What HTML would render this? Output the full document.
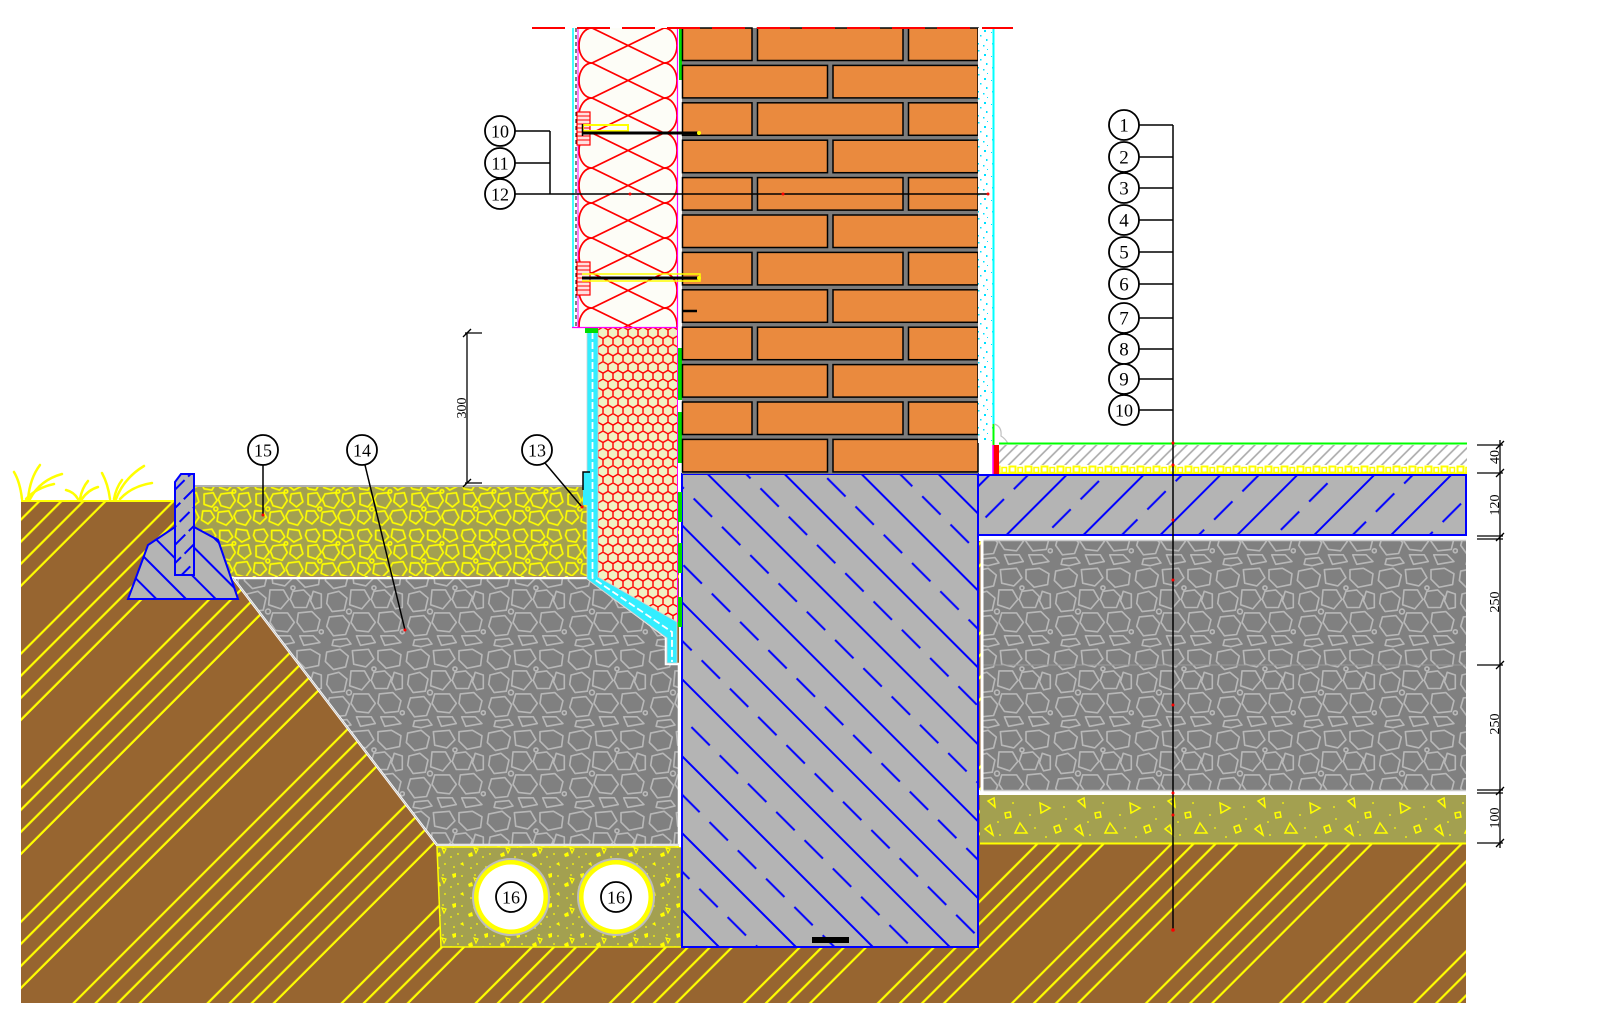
<!DOCTYPE html>
<html><head><meta charset="utf-8">
<style>
html,body{margin:0;padding:0;background:#fff;overflow:hidden}
svg{display:block}
text{font-family:"Liberation Serif","DejaVu Serif",serif;fill:#000}
</style></head><body>
<svg width="1600" height="1026" viewBox="0 0 1600 1026" xmlns="http://www.w3.org/2000/svg">
<defs>
<pattern id="soil" patternUnits="userSpaceOnUse" width="94.8" height="20" patternTransform="rotate(45)">
 <rect width="94.8" height="20" fill="#976530"/>
 <g stroke="#ffff00" stroke-width="2.2">
  <line x1="3" y1="-2" x2="3" y2="22"/><line x1="18.6" y1="-2" x2="18.6" y2="22"/>
  <line x1="34.2" y1="-2" x2="34.2" y2="22"/><line x1="49.8" y1="-2" x2="49.8" y2="22"/>
 </g>
</pattern>
<pattern id="fh" patternUnits="userSpaceOnUse" width="54.4" height="40" patternTransform="rotate(-45)">
 <rect width="54.4" height="40" fill="#b4b4b4"/>
 <line x1="2" y1="-1" x2="2" y2="41" stroke="#0000ff" stroke-width="2"/>
 <line x1="29.2" y1="3" x2="29.2" y2="43" stroke="#0000ff" stroke-width="2" stroke-dasharray="26 14"/>
</pattern>
<pattern id="sh" patternUnits="userSpaceOnUse" width="54.4" height="40" patternTransform="rotate(45)">
 <rect width="54.4" height="40" fill="#b4b4b4"/>
 <line x1="2" y1="-1" x2="2" y2="41" stroke="#0000ff" stroke-width="2"/>
 <line x1="29.2" y1="3" x2="29.2" y2="43" stroke="#0000ff" stroke-width="2" stroke-dasharray="26 14"/>
</pattern>
<pattern id="hh" patternUnits="userSpaceOnUse" width="21" height="20" patternTransform="rotate(-45)">
 <rect width="21" height="20" fill="#b4b4b4"/>
 <line x1="2" y1="-1" x2="2" y2="21" stroke="#0000ff" stroke-width="2"/>
</pattern>
<pattern id="ch" patternUnits="userSpaceOnUse" width="13" height="19" patternTransform="rotate(45)">
 <rect width="13" height="19" fill="#b4b4b4"/>
 <line x1="2" y1="0" x2="2" y2="19" stroke="#0000ff" stroke-width="2" stroke-dasharray="14 5"/>
</pattern>
<pattern id="scr" patternUnits="userSpaceOnUse" width="8" height="10" patternTransform="rotate(45)">
 <rect width="8" height="10" fill="#fff"/>
 <line x1="2" y1="-1" x2="2" y2="11" stroke="#a8a8a8" stroke-width="1.6"/>
</pattern>
<pattern id="ins" patternUnits="userSpaceOnUse" x="0" y="465" width="16" height="10">
 <rect width="16" height="10" fill="#fff"/>
 <rect x="1.5" y="1.5" width="6" height="6" fill="none" stroke="#ffff00" stroke-width="2"/>
 <rect x="10" y="2.5" width="4.5" height="5" fill="none" stroke="#ffff00" stroke-width="1.5"/>
 <rect x="0" y="7.5" width="16" height="2.5" fill="#ffff00"/>
</pattern>
<pattern id="hex" patternUnits="userSpaceOnUse" x="598" y="327" width="10" height="17.32">
 <rect width="10" height="17.32" fill="#f1f1c3"/>
 <path d="M5,0 L10,2.887 L10,8.66 L5,11.547 L0,8.66 L0,2.887 Z M5,11.547 L5,17.32" fill="none" stroke="#ff0000" stroke-width="1.4"/>
</pattern>
<pattern id="wool" patternUnits="userSpaceOnUse" x="578" y="28" width="100" height="35">
 <rect width="100" height="35" fill="#fdfdf7"/>
 <path d="M14,0 A13,17.5 0 0 0 14,35 M86,0 A13,17.5 0 0 1 86,35 M14,0 L86,35 M14,35 L86,0" fill="none" stroke="#ff0000" stroke-width="1.7"/>
</pattern>
<pattern id="pl" patternUnits="userSpaceOnUse" width="15" height="24">
 <rect width="15" height="24" fill="#fff"/>
 <g fill="#00e0ff">
  <rect x="3" y="2" width="1.5" height="1.5"/><rect x="9" y="6" width="2" height="2"/>
  <rect x="5" y="11" width="1.5" height="1.5"/><rect x="11" y="15" width="1.5" height="2"/>
  <rect x="2" y="19" width="2" height="1.5"/><rect x="8" y="21" width="1.5" height="1.5"/>
  <rect x="12" y="1" width="1" height="1"/><rect x="1" y="8" width="1" height="1"/>
 </g>
</pattern>
<pattern id="gs" patternUnits="userSpaceOnUse" width="60" height="60" patternTransform="scale(1.35)">
 <rect width="60" height="60" fill="#808080"/>
 <g fill="none" stroke="#b8b8b8" stroke-width="1.2" stroke-linejoin="round">
  <polygon points="2,3 12,1 18,6 16,14 7,16 1,10"/>
  <polygon points="21,2 33,1 37,8 31,14 22,12"/>
  <polygon points="40,2 50,1 57,5 56,13 46,15 40,9"/>
  <polygon points="3,20 11,18 17,23 15,32 6,33 2,27"/>
  <polygon points="20,17 30,17 34,24 28,31 19,28"/>
  <polygon points="37,18 45,17 50,22 47,30 38,30 35,24"/>
  <polygon points="52,18 58,20 58,30 53,31 50,25"/>
  <polygon points="4,37 14,36 19,42 16,50 7,51 2,44"/>
  <polygon points="22,34 33,34 38,41 33,48 24,47 20,41"/>
  <polygon points="41,34 51,33 57,39 55,47 45,48 40,41"/>
  <polygon points="7,54 17,53 20,57 12,59 6,58"/>
  <polygon points="24,51 35,51 38,56 27,58"/>
  <polygon points="42,51 52,51 57,56 45,58"/>
  <circle cx="18.5" cy="33" r="1.8"/><circle cx="37" cy="15.5" r="1.5"/><circle cx="58" cy="48" r="1.5"/>
 </g>
</pattern>
<pattern id="ys" patternUnits="userSpaceOnUse" x="194" y="486" width="40" height="40" patternTransform="scale(1.3)">
 <rect width="40" height="40" fill="#a3a050"/>
 <g fill="none" stroke="#ffff00" stroke-width="1.3" stroke-linejoin="round">
  <polygon points="2,2 9,1 12,6 9,11 3,10 1,6"/>
  <polygon points="15,2 22,2 25,7 21,11 15,9"/>
  <polygon points="28,1 36,2 38,8 32,11 27,7"/>
  <polygon points="3,14 10,13 13,19 9,24 3,22"/>
  <polygon points="16,14 24,13 27,19 23,25 16,23 14,18"/>
  <polygon points="30,14 37,13 39,20 34,24 29,20"/>
  <polygon points="2,27 8,27 11,32 6,37 1,34"/>
  <polygon points="14,28 22,27 25,33 20,38 13,35"/>
  <polygon points="28,27 36,26 39,32 35,38 28,36 26,31"/>
  <circle cx="12" cy="25.5" r="1.5"/><circle cx="26" cy="12" r="1.3"/>
 </g>
</pattern>
<pattern id="ol" patternUnits="userSpaceOnUse" x="980" y="795" width="90" height="48">
 <rect width="90" height="48" fill="#a3a050"/>
 <g fill="none" stroke="#ffff00" stroke-width="1.5">
  <polygon points="8,6 14,3 15,12"/><polygon points="40,28 47,38 35,38"/>
  <polygon points="60,8 70,13 61,18"/><polygon points="25,18 30,17 31,22 26,23"/>
  <polygon points="74,32 79,30 81,36 76,38"/><polygon points="5,34 10,30 13,40"/>
 </g>
 <g fill="#ffff00">
  <circle cx="20" cy="40" r="0.9"/><circle cx="33" cy="8" r="0.9"/><circle cx="50" cy="20" r="0.9"/>
  <circle cx="84" cy="12" r="0.9"/><circle cx="66" cy="42" r="0.9"/><circle cx="18" cy="27" r="0.9"/>
  <circle cx="55" cy="33" r="0.9"/><circle cx="86" cy="24" r="0.9"/>
 </g>
</pattern>
<pattern id="dr" patternUnits="userSpaceOnUse" width="32" height="30">
 <rect width="32" height="30" fill="#a3a050"/>
 <g fill="#ffff00">
  <polygon points="4,4 8,3 8,7 5,8"/><polygon points="20,14 24,12 25,16 21,17"/><polygon points="12,24 15,22 16,26"/>
  <circle cx="14" cy="6" r="0.9"/><circle cx="27" cy="5" r="0.9"/><circle cx="3" cy="17" r="0.9"/>
  <circle cx="10" cy="14" r="0.9"/><circle cx="29" cy="24" r="0.9"/><circle cx="23" cy="28" r="0.9"/><circle cx="6" cy="27" r="0.9"/>
 </g>
 <polygon points="26,8 30,9 28,13" fill="none" stroke="#ffff00" stroke-width="1.2"/>
</pattern>
</defs>

<rect width="1600" height="1026" fill="#fff"/>

<!-- soil -->
<rect x="21" y="501" width="1445" height="502" fill="url(#soil)"/>
<line x1="21" y1="501" x2="176" y2="501" stroke="#ffff00" stroke-width="2"/>

<!-- grass -->
<g fill="none" stroke="#ffff00" stroke-width="2.5" stroke-linecap="round">
<path d="M22,499 Q20,482 14,472"/><path d="M28,499 Q30,478 40,465"/>
<path d="M30,499 Q40,480 62,474"/><path d="M26,499 Q36,488 54,484"/>
<path d="M78,499 Q74,492 66,490"/><path d="M80,499 Q82,488 88,481"/>
<path d="M82,499 Q88,490 98,487"/><path d="M110,499 Q108,484 102,473"/>
<path d="M116,499 Q124,478 144,466"/><path d="M120,499 Q132,486 152,483"/>
<path d="M114,499 Q116,488 122,480"/>
</g>

<!-- yellow gravel 15 -->
<rect x="194" y="486" width="393" height="90" fill="url(#ys)"/>
<line x1="194" y1="486" x2="587" y2="486" stroke="#b0b0b0" stroke-width="2"/>

<!-- gray stone 14 -->
<polygon points="233,578 587,578 666,637 666,664 679,664 679,845 437,845" fill="url(#gs)" stroke="#ffffff" stroke-width="2.5"/>
<polyline points="233,578 437,845 679,845" fill="none" stroke="#c8c8c8" stroke-width="1"/>

<!-- haunch & curb -->
<polygon points="128,599 134,583 148,545 175,527 194,527 218,540 229,572 238,599" fill="url(#hh)" stroke="#0000ff" stroke-width="2"/>
<polygon points="175,482 181,474 194,474 194,575 175,575" fill="url(#ch)" stroke="#0000ff" stroke-width="2"/>

<!-- drainage -->
<polygon points="437,847 682,847 682,947 441,947" fill="url(#dr)" stroke="#ffff00" stroke-width="1.5"/>
<g>
<circle cx="511" cy="897" r="39" fill="#bdbdbd"/><circle cx="511" cy="897" r="37" fill="#ffff00"/><circle cx="511" cy="897" r="32.5" fill="#fff"/>
<circle cx="616" cy="897" r="39" fill="#bdbdbd"/><circle cx="616" cy="897" r="37" fill="#ffff00"/><circle cx="616" cy="897" r="32.5" fill="#fff"/>
</g>

<!-- foundation -->
<rect x="679" y="474" width="4" height="373" fill="#fff"/>
<rect x="682" y="474" width="296" height="473" fill="url(#fh)" stroke="#0000ff" stroke-width="2"/>
<rect x="812" y="937" width="37" height="6" fill="#000"/>

<!-- plinth XPS + waterproofing band -->
<polygon points="598,327 677,327 677,622 598,577" fill="url(#hex)"/>
<polygon points="587,330 598,330 598,577 677,622 677,663 667,663 667,638 587,579" fill="#33eeff" stroke="#d0d0d0" stroke-width="0.8"/>
<polyline points="592.5,332 592.5,578 672,632 672,662" fill="none" stroke="#fff" stroke-width="1.8" stroke-dasharray="7 3"/>
<rect x="583" y="472" width="5" height="33" fill="#33eeff"/>
<path d="M583,490 L583,472 L590,472" fill="none" stroke="#000" stroke-width="1.5"/>
<line x1="677.5" y1="327" x2="677.5" y2="622" stroke="#ff00ff" stroke-width="1"/>
<g fill="#00dd00">
<rect x="678" y="348" width="4" height="52"/><rect x="678" y="412" width="4" height="51"/>
<rect x="678" y="492" width="4" height="30"/><rect x="678" y="543" width="4" height="30"/>
<rect x="678" y="597" width="4" height="30"/><rect x="585" y="326" width="13" height="7"/>
</g>

<!-- wall insulation -->
<rect x="572" y="28" width="6" height="299" fill="#fff"/>
<line x1="573" y1="28" x2="573" y2="327" stroke="#00ffff" stroke-width="1.5"/>
<line x1="576" y1="28" x2="576" y2="327" stroke="#000" stroke-width="1" stroke-dasharray="4 3"/>
<rect x="578" y="28" width="99.5" height="299" fill="url(#wool)"/>
<line x1="578" y1="28" x2="578" y2="327" stroke="#ff00ff" stroke-width="1"/>
<line x1="677.5" y1="28" x2="677.5" y2="327" stroke="#ff00ff" stroke-width="1.2"/>
<line x1="572" y1="327.5" x2="678" y2="327.5" stroke="#ff00ff" stroke-width="1.2"/>
<rect x="679" y="28" width="3" height="52" fill="#00dd00"/>

<!-- bricks -->
<rect x="682" y="28" width="296" height="446" fill="#7c7c7c"/>
<g fill="#ea8a3e" stroke="#000" stroke-width="1.5">
<rect x="682.5" y="28" width="69.5" height="32.5"/><rect x="757.5" y="28" width="145.5" height="32.5"/><rect x="908.5" y="28" width="69.5" height="32.5"/>
<rect x="682.5" y="65.4" width="145" height="32.5"/><rect x="833" y="65.4" width="145" height="32.5"/>
<rect x="682.5" y="102.8" width="69.5" height="32.5"/><rect x="757.5" y="102.8" width="145.5" height="32.5"/><rect x="908.5" y="102.8" width="69.5" height="32.5"/>
<rect x="682.5" y="140.2" width="145" height="32.5"/><rect x="833" y="140.2" width="145" height="32.5"/>
<rect x="682.5" y="177.6" width="69.5" height="32.5"/><rect x="757.5" y="177.6" width="145.5" height="32.5"/><rect x="908.5" y="177.6" width="69.5" height="32.5"/>
<rect x="682.5" y="215" width="145" height="32.5"/><rect x="833" y="215" width="145" height="32.5"/>
<rect x="682.5" y="252.4" width="69.5" height="32.5"/><rect x="757.5" y="252.4" width="145.5" height="32.5"/><rect x="908.5" y="252.4" width="69.5" height="32.5"/>
<rect x="682.5" y="289.8" width="145" height="32.5"/><rect x="833" y="289.8" width="145" height="32.5"/>
<rect x="682.5" y="327.2" width="69.5" height="32.5"/><rect x="757.5" y="327.2" width="145.5" height="32.5"/><rect x="908.5" y="327.2" width="69.5" height="32.5"/>
<rect x="682.5" y="364.6" width="145" height="32.5"/><rect x="833" y="364.6" width="145" height="32.5"/>
<rect x="682.5" y="402" width="69.5" height="32.5"/><rect x="757.5" y="402" width="145.5" height="32.5"/><rect x="908.5" y="402" width="69.5" height="32.5"/>
<rect x="682.5" y="439.4" width="145" height="32.5"/><rect x="833" y="439.4" width="145" height="32.5"/>
</g>

<!-- dowels -->
<g>
<rect x="577" y="112" width="13" height="33" fill="#ffe0e0" stroke="#ff0000" stroke-width="1.2"/>
<rect x="577" y="262" width="13" height="33" fill="#ffe0e0" stroke="#ff0000" stroke-width="1.2"/>
<path d="M577,116H590M577,120H590M577,124H590M577,128H590M577,132H590M577,136H590M577,140H590M577,266H590M577,270H590M577,274H590M577,278H590M577,282H590M577,286H590M577,290H590" stroke="#ff0000" stroke-width="1"/>
<rect x="583" y="125" width="45" height="6" fill="none" stroke="#ffff00" stroke-width="2"/>
<line x1="582" y1="133" x2="698" y2="133" stroke="#000" stroke-width="3"/>
<line x1="582.5" y1="124" x2="582.5" y2="136" stroke="#000" stroke-width="1.5"/>
<circle cx="699" cy="133" r="2" fill="#ffff00"/>
<path d="M582,274 L700,274 L700,281 L582,281" fill="none" stroke="#ffff00" stroke-width="1.5"/>
<line x1="582" y1="278" x2="698" y2="278" stroke="#000" stroke-width="3"/>
<circle cx="699" cy="278" r="2" fill="#ffff00"/>
<line x1="682" y1="311" x2="697" y2="311" stroke="#000" stroke-width="2.5"/>
</g>

<!-- inner plaster -->
<rect x="978" y="28" width="15" height="415" fill="url(#pl)"/>
<line x1="993.5" y1="28" x2="993.5" y2="443" stroke="#00ffff" stroke-width="2"/>
<line x1="993.5" y1="424" x2="993.5" y2="445" stroke="#00ff00" stroke-width="2"/>
<rect x="993" y="445" width="6" height="30" fill="#ff0000"/>
<line x1="993" y1="445" x2="993" y2="475" stroke="#ff00ff" stroke-width="1.5"/>
<path d="M994,424 Q1002,426 1001,436 Q1006,439 1008,444" fill="none" stroke="#c0c0c0" stroke-width="1.2"/>

<!-- floor layers -->
<line x1="999" y1="443.5" x2="1467" y2="443.5" stroke="#00ff00" stroke-width="2"/>
<rect x="999" y="445" width="468" height="20" fill="url(#scr)"/>
<rect x="999" y="465" width="468" height="10" fill="url(#ins)"/>
<rect x="978" y="475" width="488" height="60" fill="url(#sh)" stroke="#0000ff" stroke-width="2"/>
<rect x="979" y="536" width="487" height="5" fill="#fff"/>
<rect x="982" y="540" width="484" height="250" fill="url(#gs)"/>
<line x1="982" y1="540.5" x2="1466" y2="540.5" stroke="#c8c8c8" stroke-width="1.5"/>
<line x1="982" y1="665" x2="1466" y2="665" stroke="#9a9a9a" stroke-width="1"/>
<rect x="979" y="790" width="487" height="5" fill="#fff"/>
<line x1="980" y1="790.5" x2="1466" y2="790.5" stroke="#c8c8c8" stroke-width="1.5"/>
<rect x="980" y="795" width="486" height="48" fill="url(#ol)"/>
<line x1="980" y1="843.5" x2="1466" y2="843.5" stroke="#ffff00" stroke-width="2"/>
<line x1="982" y1="536" x2="982" y2="795" stroke="#fff" stroke-width="3"/>

<!-- top break line -->
<line x1="532" y1="28" x2="1013" y2="28" stroke="#ff0000" stroke-width="2" stroke-dasharray="33 12"/>

<!-- leaders -->
<g stroke="#000" stroke-width="1.5" fill="none">
<line x1="1173" y1="125" x2="1173" y2="930"/>
<path d="M1139,125H1173M1139,157H1173M1139,188H1173M1139,220H1173M1139,252H1173M1139,284H1173M1139,318H1173M1139,349H1173M1139,379H1173M1139,410H1173"/>
<path d="M515,131H550M515,163H550M550,131V194M515,194H988"/>
<line x1="263" y1="465" x2="263" y2="515"/>
<line x1="365" y1="465" x2="405" y2="630"/>
<line x1="545" y1="463" x2="582" y2="507"/>
</g>
<g fill="#ff0000">
<circle cx="1173" cy="443" r="1.5"/><circle cx="1173" cy="465" r="1.5"/><circle cx="1173" cy="520" r="1.5"/>
<circle cx="1173" cy="580" r="1.5"/><circle cx="1173" cy="705" r="1.5"/><circle cx="1173" cy="793" r="1.5"/>
<circle cx="1173" cy="815" r="1.5"/><circle cx="1173" cy="930" r="1.8"/>
<circle cx="630" cy="194" r="1.5"/><circle cx="783" cy="194" r="1.5"/><circle cx="988" cy="194" r="1.5"/>
<circle cx="263" cy="515" r="1.5"/><circle cx="405" cy="630" r="1.5"/><circle cx="582" cy="507" r="1.5"/>
</g>

<!-- label circles -->
<g fill="#fff" stroke="#000" stroke-width="1.8">
<circle cx="1124" cy="125" r="15"/><circle cx="1124" cy="157" r="15"/><circle cx="1124" cy="188" r="15"/>
<circle cx="1124" cy="220" r="15"/><circle cx="1124" cy="252" r="15"/><circle cx="1124" cy="284" r="15"/>
<circle cx="1124" cy="318" r="15"/><circle cx="1124" cy="349" r="15"/><circle cx="1124" cy="379" r="15"/>
<circle cx="1124" cy="410" r="15"/>
<circle cx="500" cy="131" r="15"/><circle cx="500" cy="163" r="15"/><circle cx="500" cy="194" r="15"/>
<circle cx="263" cy="450" r="15"/><circle cx="362" cy="450" r="15"/><circle cx="537" cy="450" r="15"/>
<circle cx="511" cy="897" r="15"/><circle cx="616" cy="897" r="15"/>
</g>
<g font-size="19" text-anchor="middle">
<text x="1124" y="131.5">1</text><text x="1124" y="163.5">2</text><text x="1124" y="194.5">3</text>
<text x="1124" y="226.5">4</text><text x="1124" y="258.5">5</text><text x="1124" y="290.5">6</text>
<text x="1124" y="324.5">7</text><text x="1124" y="355.5">8</text><text x="1124" y="385.5">9</text>
<text x="1124" y="416.5" font-size="18">10</text>
<text x="500" y="137.5" font-size="18">10</text><text x="500" y="169.5" font-size="18">11</text><text x="500" y="200.5" font-size="18">12</text>
<text x="263" y="456.5" font-size="18">15</text><text x="362" y="456.5" font-size="18">14</text><text x="537" y="456.5" font-size="18">13</text>
<text x="511" y="903.5" font-size="18">16</text><text x="616" y="903.5" font-size="18">16</text>
</g>

<!-- dimension 300 -->
<g stroke="#000" stroke-width="1.3" fill="none">
<line x1="467" y1="333" x2="467" y2="483"/>
<line x1="465" y1="333" x2="482" y2="333"/><line x1="463" y1="337" x2="471" y2="329"/>
<line x1="465" y1="483" x2="482" y2="483"/><line x1="463" y1="487" x2="471" y2="479"/>
</g>
<text transform="translate(461,408) rotate(-90)" font-size="14" text-anchor="middle" dy="0.35em">300</text>

<!-- right dimensions -->
<g stroke="#000" stroke-width="1.3" fill="none">
<line x1="1500" y1="440" x2="1500" y2="848"/>
<path d="M1477,445H1503M1477,473H1503M1477,536H1503M1477,539H1503M1477,665H1503M1477,790H1503M1477,793H1503M1477,843H1503"/>
<path d="M1496,449L1504,441M1496,477L1504,469M1496,541L1504,533M1496,669L1504,661M1496,795L1504,787M1496,847L1504,839"/>
</g>
<g font-size="14" text-anchor="middle">
<text transform="translate(1494,457) rotate(-90)" dy="0.35em">40</text>
<text transform="translate(1494,505) rotate(-90)" dy="0.35em">120</text>
<text transform="translate(1494,602) rotate(-90)" dy="0.35em">250</text>
<text transform="translate(1494,724) rotate(-90)" dy="0.35em">250</text>
<text transform="translate(1494,818) rotate(-90)" dy="0.35em">100</text>
</g>
</svg>
</body></html>
